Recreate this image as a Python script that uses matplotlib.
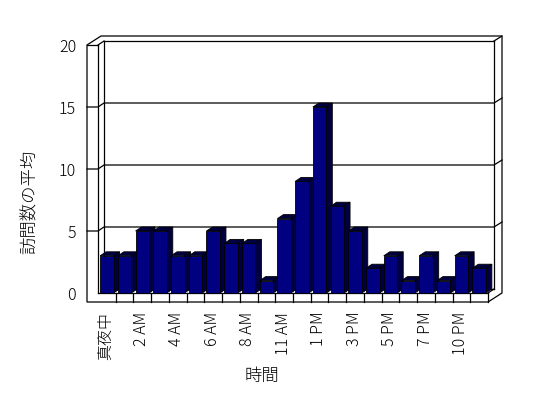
import numpy as np
import matplotlib
matplotlib.use('Agg')
from matplotlib import pyplot as plt

# average visits per hour (22 hours present in the source data)
hours = ['真夜中', '1 AM', '2 AM', '3 AM', '4 AM', '5 AM', '6 AM', '7 AM',
         '8 AM', '10 AM', '11 AM', '12 PM', '1 PM', '2 PM', '3 PM', '4 PM',
         '5 PM', '6 PM', '7 PM', '9 PM', '10 PM', '11 PM']
visits = [3, 3, 5, 5, 3, 3, 5, 4, 4, 1, 6, 9, 15, 7, 5, 2, 3, 1, 3, 1, 3, 2]
yticks = [0, 5, 10, 15, 20]

plt.rcParams['font.family'] = ['Noto Sans CJK JP', 'DejaVu Sans']
plt.rcParams['font.weight'] = 'light'

W, H = 548, 398
fig = plt.figure(figsize=(W / 100, H / 100), dpi=100)
# axes = front plane of the 3d box (pixels 98..488 x, 45..293 y)
ax = fig.add_axes([98 / W, (H - 293) / H, 390 / W, 248 / H])
n = len(visits)
ymax = 20
ax.set_xlim(0, n)
ax.set_ylim(0, ymax)

# pixel sizes in data units
ux = n / 390.0
uy = ymax / 248.0
dx, dy = 6 * ux, 4 * uy          # depth of box / bars
tx, ty = 8 * ux, 5 * uy          # back wall thickness
lw_left = 11 * ux                # left wall thickness
fl = 9 * uy                      # floor thickness

lc = 'black'
lw = 0.9

# white box silhouette
outline_x = [-lw_left, -lw_left, -lw_left + dx + tx, n + dx + tx, n + dx + tx, n, -lw_left]
outline_y = [-fl, ymax, ymax + dy + ty, ymax + dy + ty, dy + ty - fl, -fl, -fl]
ax.fill(outline_x, outline_y, facecolor='white', edgecolor=lc, lw=lw, clip_on=False, zorder=1)

# inner edges
segs = [
    ([0, 0], [0, ymax]),
    ([-lw_left, 0], [ymax, ymax]),
    ([0, dx], [ymax, ymax + dy]),
    ([dx, n + dx], [ymax + dy, ymax + dy]),
    ([dx, dx], [ymax + dy, dy]),
    ([n + dx, n + dx], [ymax + dy, dy]),
    ([n + dx, n + dx + tx], [ymax + dy, ymax + dy + ty]),
    ([0, n], [0, 0]),
    ([n, n], [0, -fl]),
    ([n, n + dx], [0, dy]),
    ([dx, n + dx], [dy, dy]),
]
for xs, ys in segs:
    ax.plot(xs, ys, color=lc, lw=lw, clip_on=False, zorder=2)

# gridlines on walls
for v in yticks[1:-1]:
    ax.plot([-lw_left, 0, dx, n + dx, n + dx + tx],
            [v, v, v + dy, v + dy, v + dy + ty],
            color=lc, lw=lw, clip_on=False, zorder=2)

# floor front cells
for i in range(1, n):
    ax.plot([i, i], [-fl, 0], color=lc, lw=lw, clip_on=False, zorder=2)

# bars with top and side faces
bw = 0.76
off = 0.12
front = '#000080'
shade = '#000040'
for i, h in enumerate(visits):
    x0 = i + off
    z = 3 + i * 0.01
    ax.fill([x0, x0 + bw, x0 + bw + dx, x0 + dx], [h, h, h + dy, h + dy],
            facecolor=shade, edgecolor=lc, lw=0.6, zorder=z, clip_on=False)
    ax.fill([x0 + bw, x0 + bw + dx, x0 + bw + dx, x0 + bw], [0, dy, h + dy, h],
            facecolor=shade, edgecolor=lc, lw=0.6, zorder=z, clip_on=False)
    ax.bar(x0, h, width=bw, align='edge', color=front, edgecolor=lc, lw=0.6,
           zorder=z + 0.005, clip_on=False)

for s in ax.spines.values():
    s.set_visible(False)
ax.set_yticks(yticks)
ax.set_yticklabels([str(v) for v in yticks], fontsize=11.5)
ax.set_xticks(np.arange(0, n, 2) + 0.45)
ax.set_xticklabels(hours[::2], rotation=90, fontsize=11.5)
ax.tick_params(axis='y', length=0, pad=15.8)
ax.tick_params(axis='x', length=0, pad=13.5)

fig.text(30 / W, 1 - 202 / H, '訪問数の平均', rotation=90, fontsize=12.5,
         ha='center', va='center')
fig.text(262 / W, 1 - 376 / H, '時間', fontsize=12.5, ha='center', va='center')

fig.savefig('out.png', dpi=100)
